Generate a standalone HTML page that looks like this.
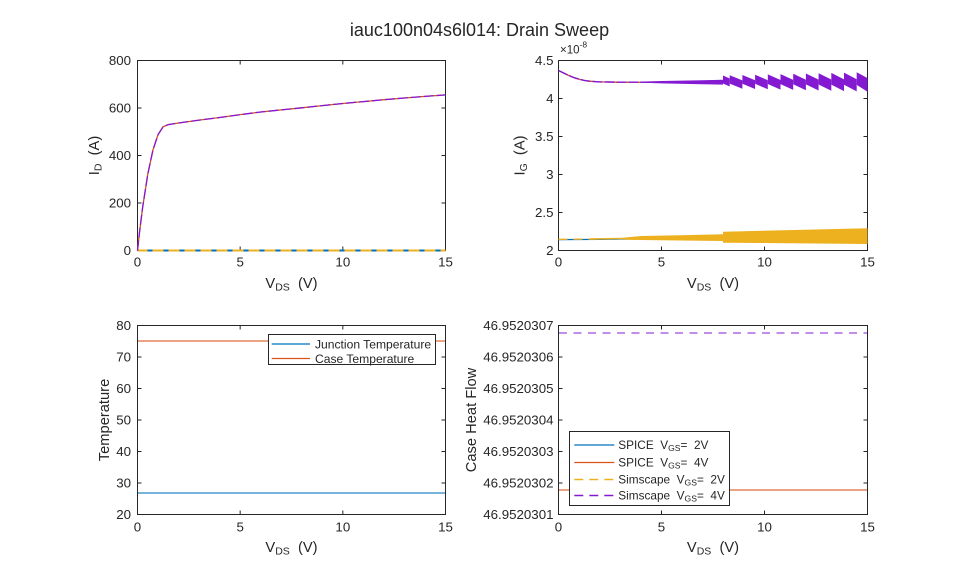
<!DOCTYPE html>
<html><head><meta charset="utf-8">
<style>
html,body{margin:0;padding:0;background:#fff;}
svg{display:block;}
text{font-family:"Liberation Sans",Arial,sans-serif;fill:#262626;}
</style></head><body>
<svg width="959" height="577" viewBox="0 0 959 577" xmlns="http://www.w3.org/2000/svg">
<rect width="959" height="577" fill="#fff"/>
<text x="479.5" y="36" font-size="18" text-anchor="middle">iauc100n04s6l014: Drain Sweep</text>

<!-- ===== A1: top-left ===== -->
<rect x="137.5" y="60.5" width="308" height="190" fill="none" stroke="#262626" stroke-width="1"/>
<path d="M240.17 250.5V246.5M342.83 250.5V246.5M240.17 60.5V64.5M342.83 60.5V64.5M137.5 203H141.5M137.5 155.5H141.5M137.5 108H141.5M445.5 203H441.5M445.5 155.5H441.5M445.5 108H441.5" stroke="#262626" stroke-width="1" fill="none"/>
<g font-size="13.3" text-anchor="middle">
<text x="137.5" y="266.5">0</text><text x="240.17" y="266.5">5</text><text x="342.83" y="266.5">10</text><text x="445.5" y="266.5">15</text>
</g>
<g font-size="13.3" text-anchor="end">
<text x="131" y="255.2">0</text><text x="131" y="207.7">200</text><text x="131" y="160.2">400</text><text x="131" y="112.7">600</text><text x="131" y="65.2">800</text>
</g>
<text x="291.5" y="288" font-size="14.7" text-anchor="middle">V<tspan font-size="10.5" dy="2.5">DS</tspan><tspan dy="-2.5">&#160;&#160;(V)</tspan></text>
<text transform="translate(99,155.5) rotate(-90)" font-size="14.7" text-anchor="middle">I<tspan font-size="10.5" dy="2.5">D</tspan><tspan dy="-2.5">&#160;&#160;(A)</tspan></text>
<!-- data -->
<path d="M137.5 250.5H445.5" stroke="#0072BD" stroke-width="2" fill="none"/>
<path d="M137.5 250.5H445.5" stroke="#EDB120" stroke-width="2" fill="none" stroke-dasharray="11 5" stroke-dashoffset="1"/>
<path d="M137.5 250.5L139.55 232L142.63 207.4L147.77 174.2L152.9 150.2L158.03 134.7L163.17 126.7L168.3 124.6L178.57 123L199.1 120.1L219.63 117.5L240.17 114.65L260.7 112L281.23 109.9L301.77 107.8L322.3 105.6L342.83 103.5L363.37 101.6L383.9 99.7L404.43 98L424.97 96.4L445.5 94.9" stroke="#D95319" stroke-width="1.3" fill="none"/>
<path d="M137.5 250.5L139.55 232L142.63 207.4L147.77 174.2L152.9 150.2L158.03 134.7L163.17 126.7L168.3 124.6L178.57 123L199.1 120.1L219.63 117.5L240.17 114.65L260.7 112L281.23 109.9L301.77 107.8L322.3 105.6L342.83 103.5L363.37 101.6L383.9 99.7L404.43 98L424.97 96.4L445.5 94.9" stroke="#8419d2" stroke-width="1.3" fill="none" stroke-dasharray="10 3"/>

<!-- ===== A2: top-right ===== -->
<rect x="558.5" y="60.5" width="309" height="190" fill="none" stroke="#262626" stroke-width="1"/>
<path d="M661.5 250.5V246.5M764.5 250.5V246.5M661.5 60.5V64.5M764.5 60.5V64.5M558.5 98.5H562.5M558.5 136.5H562.5M558.5 174.5H562.5M558.5 212.5H562.5M867.5 98.5H863.5M867.5 136.5H863.5M867.5 174.5H863.5M867.5 212.5H863.5" stroke="#262626" stroke-width="1" fill="none"/>
<g font-size="13.3" text-anchor="middle">
<text x="558.5" y="266.5">0</text><text x="661.5" y="266.5">5</text><text x="764.5" y="266.5">10</text><text x="867.5" y="266.5">15</text>
</g>
<g font-size="13.3" text-anchor="end">
<text x="553.5" y="255.2">2</text><text x="553.5" y="217.2">2.5</text><text x="553.5" y="179.2">3</text><text x="553.5" y="141.2">3.5</text><text x="553.5" y="103.2">4</text><text x="553.5" y="65.2">4.5</text>
</g>
<text x="560" y="53.5" font-size="11.5">×10<tspan font-size="8.5" dy="-6">-8</tspan></text>
<text x="713" y="288" font-size="14.7" text-anchor="middle">V<tspan font-size="10.5" dy="2.5">DS</tspan><tspan dy="-2.5">&#160;&#160;(V)</tspan></text>
<text transform="translate(524.7,155.5) rotate(-90)" font-size="14.7" text-anchor="middle">I<tspan font-size="10.5" dy="2.5">G</tspan><tspan dy="-2.5">&#160;&#160;(A)</tspan></text>
<!-- yellow / blue low series -->
<path d="M558.5 239.6L600 239.4L641 238.8" stroke="#0072BD" stroke-width="1.3" fill="none"/>
<path d="M558.5 239.3L600 239L641 238.3" stroke="#EDB120" stroke-width="1.3" fill="none" stroke-dasharray="9 6"/>
<path d="M590 239L641 238.2" stroke="#EDB120" stroke-width="1.5" fill="none"/>
<polygon points="625,237.5 641,236 680,235.2 723,234.3 723,241 680,240.5 641,240 625,239.8" fill="#EDB120"/>
<polygon points="723,231.7 867.5,228.3 867.5,244 723,242.7" fill="#EDB120"/>
<!-- purple upper series -->
<path d="M558.5 70.5L563.6 73L568.8 75.5L573.9 77.6L579.1 79.2L584.2 80.4L589.4 81.2L599.7 81.9L620.3 82.2L723 82.3" stroke="#D95319" stroke-width="1.3" fill="none"/>
<path d="M558.5 70.5L563.6 73L568.8 75.5L573.9 77.6L579.1 79.2L584.2 80.4L589.4 81.2L599.7 81.9L620.3 82.2L723 82.3" stroke="#8419d2" stroke-width="1.4" fill="none" stroke-dasharray="10 2"/>
<polygon points="640,81.6 661.5,81 702,80.2 723,79.8 723,84.6 702,84.2 661.5,83.4 640,82.6" fill="#8419d2"/>
<g fill="#8419d2">
<polygon points="723,75.5 729.7,78.5 729.7,86.5 723,83.5"/>
<polygon points="729.7,75.3 742.4,80.4 742.4,88.7 729.7,83.6"/>
<polygon points="742.4,75 755.1,80.3 755.1,89 742.4,83.7"/>
<polygon points="755.1,74.7 767.8,80.2 767.8,89.3 755.1,83.8"/>
<polygon points="767.8,74.4 780.5,80 780.5,89.6 767.8,84"/>
<polygon points="780.5,74.1 793.2,79.9 793.2,89.9 780.5,84.1"/>
<polygon points="793.2,73.8 805.9,79.8 805.9,90.2 793.2,84.2"/>
<polygon points="805.9,73.5 818.6,79.6 818.6,90.5 805.9,84.4"/>
<polygon points="818.6,73.2 831.3,79.5 831.3,90.8 818.6,84.5"/>
<polygon points="831.3,72.9 844,79.4 844,91.1 831.3,84.6"/>
<polygon points="844,72.6 856.7,79.2 856.7,91.4 844,84.8"/>
<polygon points="856.7,72.3 867.5,78.1 867.5,91.7 856.7,84.9"/>
</g>

<!-- ===== A3: bottom-left ===== -->
<rect x="137.5" y="325.5" width="308" height="189" fill="none" stroke="#262626" stroke-width="1"/>
<path d="M240.17 514.5V510.5M342.83 514.5V510.5M240.17 325.5V329.5M342.83 325.5V329.5M137.5 483H141.5M137.5 451.5H141.5M137.5 420H141.5M137.5 388.5H141.5M137.5 357H141.5M445.5 483H441.5M445.5 451.5H441.5M445.5 420H441.5M445.5 388.5H441.5M445.5 357H441.5" stroke="#262626" stroke-width="1" fill="none"/>
<g font-size="13.3" text-anchor="middle">
<text x="137.5" y="531.5">0</text><text x="240.17" y="531.5">5</text><text x="342.83" y="531.5">10</text><text x="445.5" y="531.5">15</text>
</g>
<g font-size="13.3" text-anchor="end">
<text x="131" y="519.2">20</text><text x="131" y="487.7">30</text><text x="131" y="456.2">40</text><text x="131" y="424.7">50</text><text x="131" y="393.2">60</text><text x="131" y="361.7">70</text><text x="131" y="330.2">80</text>
</g>
<text x="291.5" y="552" font-size="14.7" text-anchor="middle">V<tspan font-size="10.5" dy="2.5">DS</tspan><tspan dy="-2.5">&#160;&#160;(V)</tspan></text>
<text transform="translate(109,420) rotate(-90)" font-size="14.7" text-anchor="middle">Temperature</text>
<path d="M138 341H445" stroke="#D95319" stroke-width="1.2" fill="none" opacity="0.85"/>
<path d="M138 493H445" stroke="#0072BD" stroke-width="1.2" fill="none" opacity="0.85"/>
<rect x="268.5" y="334.5" width="167" height="30" fill="#fff" stroke="#262626" stroke-width="1"/>
<path d="M271.7 344H310" stroke="#0072BD" stroke-width="1.2"/>
<path d="M271.7 358.5H310" stroke="#D95319" stroke-width="1.2"/>
<text x="315" y="348.3" font-size="12.1">Junction Temperature</text>
<text x="315" y="362.8" font-size="12.1">Case Temperature</text>

<!-- ===== A4: bottom-right ===== -->
<rect x="558.5" y="325.5" width="309" height="189" fill="none" stroke="#262626" stroke-width="1"/>
<path d="M661.5 514.5V510.5M764.5 514.5V510.5M661.5 325.5V329.5M764.5 325.5V329.5M558.5 483H562.5M558.5 451.5H562.5M558.5 420H562.5M558.5 388.5H562.5M558.5 357H562.5M867.5 483H863.5M867.5 451.5H863.5M867.5 420H863.5M867.5 388.5H863.5M867.5 357H863.5" stroke="#262626" stroke-width="1" fill="none"/>
<g font-size="13.3" text-anchor="middle">
<text x="558.5" y="531.5">0</text><text x="661.5" y="531.5">5</text><text x="764.5" y="531.5">10</text><text x="867.5" y="531.5">15</text>
</g>
<g font-size="13.3" text-anchor="end">
<text x="553.5" y="519.2">46.9520301</text><text x="553.5" y="487.7">46.9520302</text><text x="553.5" y="456.2">46.9520303</text><text x="553.5" y="424.7">46.9520304</text><text x="553.5" y="393.2">46.9520305</text><text x="553.5" y="361.7">46.9520306</text><text x="553.5" y="330.2">46.9520307</text>
</g>
<text x="713" y="552" font-size="14.7" text-anchor="middle">V<tspan font-size="10.5" dy="2.5">DS</tspan><tspan dy="-2.5">&#160;&#160;(V)</tspan></text>
<text transform="translate(476,420) rotate(-90)" font-size="14.7" text-anchor="middle">Case Heat Flow</text>
<path d="M559 490H867" stroke="#D95319" stroke-width="1.2" fill="none" opacity="0.85"/>
<path d="M559 333H867" stroke="#8419d2" stroke-width="1.2" fill="none" opacity="0.8" stroke-dasharray="8 6.5"/>
<rect x="569.5" y="431.5" width="160" height="74" fill="#fff" stroke="#262626" stroke-width="1"/>
<path d="M574.3 445H614.3" stroke="#0072BD" stroke-width="1.2"/>
<path d="M574.3 462.5H614.3" stroke="#D95319" stroke-width="1.2"/>
<path d="M574.3 479.5H614.3" stroke="#EDB120" stroke-width="1.4" stroke-dasharray="9 6"/>
<path d="M574.3 495.5H614.3" stroke="#8419d2" stroke-width="1.4" stroke-dasharray="9 6"/>
<g font-size="11.8">
<text x="618.3" y="449.2">SPICE&#160;&#160;V<tspan font-size="8.6" dy="2">GS</tspan><tspan dy="-2">=&#160;&#160;2V</tspan></text>
<text x="618.3" y="466.7">SPICE&#160;&#160;V<tspan font-size="8.6" dy="2">GS</tspan><tspan dy="-2">=&#160;&#160;4V</tspan></text>
<text x="618.3" y="483.7">Simscape&#160;&#160;V<tspan font-size="8.6" dy="2">GS</tspan><tspan dy="-2">=&#160;&#160;2V</tspan></text>
<text x="618.3" y="499.7">Simscape&#160;&#160;V<tspan font-size="8.6" dy="2">GS</tspan><tspan dy="-2">=&#160;&#160;4V</tspan></text>
</g>
</svg>
</body></html>
